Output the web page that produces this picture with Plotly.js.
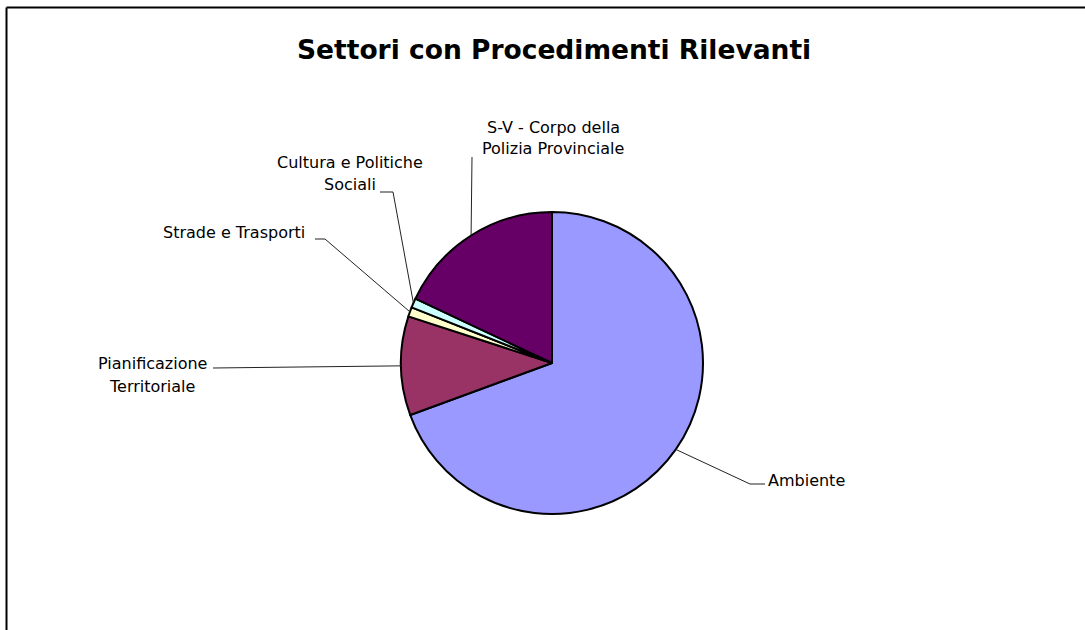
<!DOCTYPE html>
<html>
<head>
<meta charset="utf-8">
<script src="https://cdn.plot.ly/plotly-3.0.1.min.js"></script>
<style>html,body{margin:0;padding:0;background:#fff;}#chart{width:1085px;height:630px;}</style>
</head>
<body>
<div id="chart"></div>
<script>
// ---- data ----
const sectors = ["Ambiente", "Pianificazione Territoriale", "Strade e Trasporti", "Cultura e Politiche Sociali", "S-V - Corpo della Polizia Provinciale"];
const shares = [69.4, 10.6, 1.0, 1.0, 18.0];
const sliceColors = ["#9999FF", "#993366", "#FFFFCC", "#CCFFFF", "#660066"];
const chartTitle = "Settori con Procedimenti Rilevanti";
// label lines as displayed
const labelLines = [["Ambiente"], ["Pianificazione", "Territoriale"], ["Strade e Trasporti"], ["Cultura e Politiche", "Sociali"], ["S-V - Corpo della", "Polizia Provinciale"]];

// ---- layout (pixels) ----
const W = 1085, H = 630;
const CX = 552, CY = 363, R = 151;
const px = x => x / W;
const py = y => 1 - y / H;
// per-slice label placement: text centre, line spacing, leader elbow points
const labelCfg = [
  {x: 806, y: 480, elbow: [[750, 484], [765, 484]]},
  {x: 152, y: 364, dy: 22, elbow: [[213, 368]]},
  {x: 234, y: 232, elbow: [[325, 239], [315, 239]]},
  {x: 350, y: 163, dy: 21, elbow: [[393, 192], [380, 192]]},
  {x: 553, y: 128, dy: 20, elbow: [[472, 157]]}
];
const labelFont = {family: "DejaVu Sans, Liberation Sans, Arial", size: 16, color: "#000"};

const total = shares.reduce((a, b) => a + b, 0);
let cum = 0;
const shapes = [];
const annotations = [];
shares.forEach((v, i) => {
  const theta = 2 * Math.PI * (cum + v / 2) / total;
  cum += v;
  const ex = CX + R * Math.sin(theta);
  const ey = CY - R * Math.cos(theta);
  const pts = [[ex, ey]].concat(labelCfg[i].elbow);
  let path = "M" + px(pts[0][0]) + "," + py(pts[0][1]);
  for (let k = 1; k < pts.length; k++) path += " L" + px(pts[k][0]) + "," + py(pts[k][1]);
  shapes.push({type: "path", xref: "paper", yref: "paper", path: path, line: {color: "#222", width: 1}});
  labelLines[i].forEach((t, j) => {
    annotations.push({
      text: t, xref: "paper", yref: "paper",
      x: px(labelCfg[i].x), y: py(labelCfg[i].y + j * (labelCfg[i].dy || 0)),
      xanchor: "center", yanchor: "middle", showarrow: false, font: labelFont
    });
  });
});

// frame border
shapes.push({type: "line", xref: "paper", yref: "paper", x0: px(6.5), y0: py(7.5), x1: px(1090), y1: py(7.5), line: {color: "#000", width: 2}});
shapes.push({type: "line", xref: "paper", yref: "paper", x0: px(6.5), y0: py(7.5), x1: px(6.5), y1: py(640), line: {color: "#000", width: 2}});

annotations.push({
  text: "<b>" + chartTitle + "</b>", xref: "paper", yref: "paper",
  x: px(554), y: py(50), xanchor: "center", yanchor: "middle", showarrow: false,
  font: {family: "DejaVu Sans, Liberation Sans, Arial", size: 26.5, color: "#000"}
});

const trace = {
  type: "pie",
  labels: sectors,
  values: shares,
  sort: false,
  direction: "clockwise",
  rotation: 0,
  textinfo: "none",
  textposition: "none",
  hoverinfo: "label+percent",
  showlegend: false,
  marker: {colors: sliceColors, line: {color: "#000", width: 2}},
  domain: {x: [px(CX - R), px(CX + R)], y: [py(CY + R), py(CY - R)]}
};

const layout = {
  width: W, height: H,
  margin: {l: 0, r: 0, t: 0, b: 0},
  paper_bgcolor: "#fff",
  showlegend: false,
  shapes: shapes,
  annotations: annotations
};

Plotly.newPlot("chart", [trace], layout, {displayModeBar: false, staticPlot: true});
</script>
</body>
</html>
